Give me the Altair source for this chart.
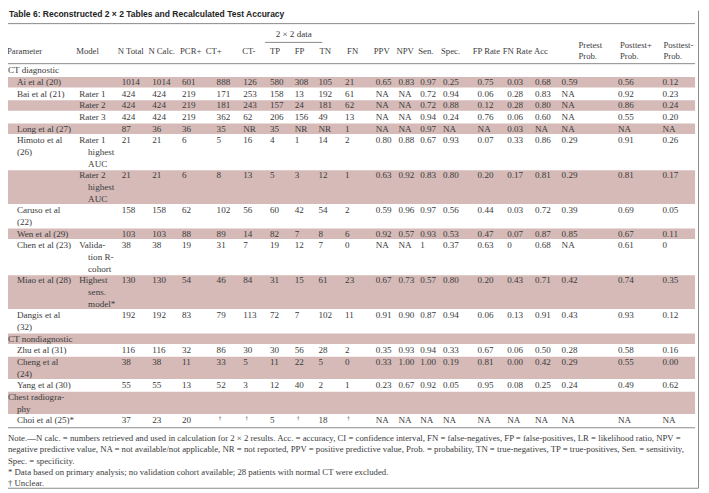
import altair as alt
import pandas as pd

# ---------------- data ----------------
title_text = "Table 6: Reconstructed 2 \u00d7 2 Tables and Recalculated Test Accuracy"

headers = ["Parameter", "Model", "N Total", "N Calc.", "PCR+", "CT+", "CT-", "TP", "FP", "TN", "FN",
           "PPV", "NPV", "Sen.", "Spec.", "FP Rate", "FN Rate", "Acc", "Pretest\nProb.",
           "Posttest+\nProb.", "Posttest-\nProb."]
span_header = "2 \u00d7 2 data"

# group flag: True = section heading row
is_group = [True, False, False, False, False, False, False, False, False, False, False, False, False,
            True, False, False, False, True, False]
params = ["CT diagnostic", "Ai et al (20)", "Bai et al (21)", "", "", "Long et al (27)",
          "Himoto et al\n(26)", "", "Caruso et al\n(22)", "Wen et al (29)", "Chen et al (23)",
          "Miao et al (28)", "Dangis et al\n(32)", "CT nondiagnostic", "Zhu et al (31)",
          "Cheng et al\n(24)", "Yang et al (30)", "Chest radiogra-\nphy", "Choi et al (25)*"]
models = ["", "", "Rater 1", "Rater 2", "Rater 3", "", "Rater 1\nhighest\nAUC", "Rater 2\nhighest\nAUC",
          "", "", "Valida-\ntion R-\ncohort", "Highest\nsens.\nmodel*", "", "", "", "", "", "", ""]

n_total = ["", "1014", "424", "424", "424", "87", "21", "21", "158", "103", "38", "130", "192", "", "116", "38", "55", "", "37"]
n_calc  = ["", "1014", "424", "424", "424", "36", "21", "21", "158", "103", "38", "130", "192", "", "116", "38", "55", "", "23"]
pcr_pos = ["", "601", "219", "219", "219", "36", "6", "6", "62", "88", "19", "54", "83", "", "32", "11", "13", "", "20"]
ct_pos  = ["", "888", "171", "181", "362", "35", "5", "8", "102", "89", "31", "46", "79", "", "86", "33", "52", "", "\u2020"]
ct_neg  = ["", "126", "253", "243", "62", "NR", "16", "13", "56", "14", "7", "84", "113", "", "30", "5", "3", "", "\u2020"]
tp      = ["", "580", "158", "157", "206", "35", "4", "5", "60", "82", "19", "31", "72", "", "30", "11", "12", "", "5"]
fp      = ["", "308", "13", "24", "156", "NR", "1", "3", "42", "7", "12", "15", "7", "", "56", "22", "40", "", "\u2020"]
tn      = ["", "105", "192", "181", "49", "NR", "14", "12", "54", "8", "7", "61", "102", "", "28", "5", "2", "", "18"]
fn      = ["", "21", "61", "62", "13", "1", "2", "1", "2", "6", "0", "23", "11", "", "2", "0", "1", "", "\u2020"]
ppv     = ["", "0.65", "NA", "NA", "NA", "NA", "0.80", "0.63", "0.59", "0.92", "NA", "0.67", "0.91", "", "0.35", "0.33", "0.23", "", "NA"]
npv     = ["", "0.83", "NA", "NA", "NA", "NA", "0.88", "0.92", "0.96", "0.57", "NA", "0.73", "0.90", "", "0.93", "1.00", "0.67", "", "NA"]
sen     = ["", "0.97", "0.72", "0.72", "0.94", "0.97", "0.67", "0.83", "0.97", "0.93", "1", "0.57", "0.87", "", "0.94", "1.00", "0.92", "", "NA"]
spec    = ["", "0.25", "0.94", "0.88", "0.24", "NA", "0.93", "0.80", "0.56", "0.53", "0.37", "0.80", "0.94", "", "0.33", "0.19", "0.05", "", "NA"]
fp_rate = ["", "0.75", "0.06", "0.12", "0.76", "NA", "0.07", "0.20", "0.44", "0.47", "0.63", "0.20", "0.06", "", "0.67", "0.81", "0.95", "", "NA"]
fn_rate = ["", "0.03", "0.28", "0.28", "0.06", "0.03", "0.33", "0.17", "0.03", "0.07", "0", "0.43", "0.13", "", "0.06", "0.00", "0.08", "", "NA"]
acc     = ["", "0.68", "0.83", "0.80", "0.60", "NA", "0.86", "0.81", "0.72", "0.87", "0.68", "0.71", "0.91", "", "0.50", "0.42", "0.25", "", "NA"]
pretest = ["", "0.59", "NA", "NA", "NA", "NA", "0.29", "0.29", "0.39", "0.85", "NA", "0.42", "0.43", "", "0.28", "0.29", "0.24", "", "NA"]
post_pos = ["", "0.56", "0.92", "0.86", "0.55", "NA", "0.91", "0.81", "0.69", "0.67", "0.61", "0.74", "0.93", "", "0.58", "0.55", "0.49", "", "NA"]
post_neg = ["", "0.12", "0.23", "0.24", "0.20", "NA", "0.26", "0.17", "0.05", "0.11", "0", "0.35", "0.12", "", "0.16", "0.00", "0.62", "", "NA"]

notes = [
    "Note.\u2014N calc. = numbers retrieved and used in calculation for 2 \u00d7 2 results. Acc. = accuracy, CI = confidence interval, FN = false-negatives, FP = false-positives, LR = likelihood ratio, NPV =",
    "negative predictive value, NA = not available/not applicable, NR = not reported, PPV = positive predictive value, Prob. = probability, TN = true-negatives, TP = true-positives, Sen. = sensitivity,",
    "Spec. = specificity.",
    "* Data based on primary analysis; no validation cohort available; 28 patients with normal CT were excluded.",
    "\u2020 Unclear.",
]

value_cols = [n_total, n_calc, pcr_pos, ct_pos, ct_neg, tp, fp, tn, fn, ppv, npv, sen, spec,
              fp_rate, fn_rate, acc, pretest, post_pos, post_neg]

# ---------------- layout (styles / positions) ----------------
W, H = 701, 485
X0, Y0 = 8, 8  # page margin offset, coordinates below are in page pixels
header_x = [7, 77, 119, 150, 182, 208, 245, 273, 298, 323, 351, 378, 401, 423, 446, 478, 508.5, 540, 585, 627, 671]
value_x = [123, 154, 184, 219, 246, 273, 298, 322, 349, 380, 403, 425, 448, 483, 513, 541, 568, 625, 670]
param_x, group_x, model_x, indent = 17, 8, 80, 9
table_top, line_h = 62.5, 11.8
header_single_y, header_two_y, header_lh = 49, 42.5, 11
note_top, note_lh = 440, 11.5
band_x0, band_x1 = 5, 703

TEXT_COLOR = "#3a3a3a"
BAND_COLOR = "#d5bab8"
LINE_COLOR = "#8a8a8a"
SERIF = "Liberation Serif"

texts = []   # body text
heads = []   # header text
sups = []    # superscript daggers
bands = []
rules = []

# header
for h, hx in zip(headers, header_x):
    lines = h.split("\n")
    if len(lines) == 1:
        heads.append(dict(x=hx, y=header_single_y, t=h))
    else:
        for i, ln in enumerate(lines):
            heads.append(dict(x=hx, y=header_two_y + i * header_lh, t=ln))

# body rows
y = table_top
for r in range(len(params)):
    p_lines = params[r].split("\n") if params[r] else []
    m_lines = models[r].split("\n") if models[r] else []
    n_lines = max(1, len(p_lines), len(m_lines))
    top, bottom = y, y + n_lines * line_h
    if r % 2 == 1:
        bands.append(dict(x=band_x0, x2=band_x1, y=top + 0.6, y2=bottom - 0.6))
    for i, ln in enumerate(p_lines):
        if is_group[r]:
            xx = group_x if i == 0 else group_x + indent
        else:
            xx = param_x
        texts.append(dict(x=xx, y=top + (i + 0.5) * line_h, t=ln))
    for i, ln in enumerate(m_lines):
        xx = model_x if i == 0 else model_x + indent
        texts.append(dict(x=xx, y=top + (i + 0.5) * line_h, t=ln))
    for col, vx in zip(value_cols, value_x):
        v = col[r]
        if v == "\u2020":
            sups.append(dict(x=vx + 2, y=top + 0.5 * line_h - 2.5, t=v))
        elif v:
            texts.append(dict(x=vx, y=top + 0.5 * line_h, t=v))
    y = bottom
table_bottom = y

# rules
rules.append(dict(x=band_x0, x2=band_x1, y=21, y2=21))
rules.append(dict(x=268, x2=326, y=40, y2=40))
rules.append(dict(x=band_x0, x2=band_x1, y=61.5, y2=61.5))
rules.append(dict(x=band_x0, x2=band_x1, y=table_bottom + 1.5, y2=table_bottom + 1.5))
# frame (right and bottom edges visible inside the page)
rules.append(dict(x=706.5, x2=706.5, y=8, y2=491))
rules.append(dict(x=8, x2=706.5, y=491, y2=491))

note_rows = [dict(x=8, y=note_top + i * note_lh, t=n) for i, n in enumerate(notes)]

xs = alt.Scale(domain=[X0, X0 + W], range=[0, W], nice=False, zero=False)
ys = alt.Scale(domain=[Y0, Y0 + H], range=[0, H], nice=False, zero=False)


def enc_xy():
    return dict(x=alt.X("x:Q", scale=xs, axis=None), y=alt.Y("y:Q", scale=ys, axis=None))


band_layer = alt.Chart(pd.DataFrame(bands)).mark_rect(color=BAND_COLOR).encode(
    x=alt.X("x:Q", scale=xs, axis=None), x2="x2:Q",
    y=alt.Y("y:Q", scale=ys, axis=None), y2="y2:Q")

rule_layer = alt.Chart(pd.DataFrame(rules)).mark_rule(color=LINE_COLOR, strokeWidth=1).encode(
    x=alt.X("x:Q", scale=xs, axis=None), x2="x2:Q",
    y=alt.Y("y:Q", scale=ys, axis=None), y2="y2:Q")

text_layer = alt.Chart(pd.DataFrame(texts)).mark_text(
    align="left", baseline="middle", font=SERIF, fontSize=9.2, color=TEXT_COLOR).encode(
    text="t:N", **enc_xy())

head_layer = alt.Chart(pd.DataFrame(heads)).mark_text(
    align="left", baseline="middle", font=SERIF, fontSize=8.8, color=TEXT_COLOR).encode(
    text="t:N", **enc_xy())

sup_layer = alt.Chart(pd.DataFrame(sups)).mark_text(
    align="left", baseline="middle", font=SERIF, fontSize=6, color=TEXT_COLOR).encode(
    text="t:N", **enc_xy())

span_layer = alt.Chart(pd.DataFrame([dict(x=297, y=32, t=span_header)])).mark_text(
    align="center", baseline="middle", font=SERIF, fontSize=9.2, color=TEXT_COLOR).encode(
    text="t:N", **enc_xy())

note_layer = alt.Chart(pd.DataFrame(note_rows)).mark_text(
    align="left", baseline="middle", font=SERIF, fontSize=8.85, color=TEXT_COLOR).encode(
    text="t:N", **enc_xy())

title_layer = alt.Chart(pd.DataFrame([dict(x=9, y=11, t=title_text)])).mark_text(
    align="left", baseline="middle", font="Liberation Sans", fontWeight="bold", fontSize=8.6,
    color="#222222").encode(text="t:N", **enc_xy())

chart = alt.layer(band_layer, rule_layer, text_layer, head_layer, sup_layer, span_layer, note_layer,
                  title_layer).properties(
    width=W, height=H, padding=0, autosize=alt.AutoSizeParams(type="none")
).configure_view(stroke=None)

chart.save("out.html", embed_options={"renderer": "svg", "actions": False})
